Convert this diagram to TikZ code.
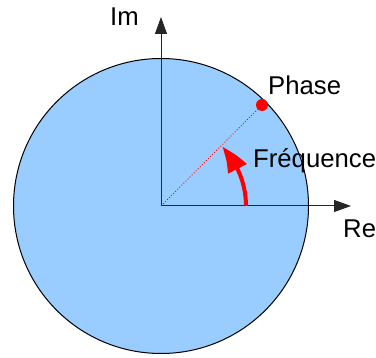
\documentclass[tikz,border=0pt]{standalone}
\usepackage{fontspec}
\setmainfont{Liberation Sans}
\usetikzlibrary{arrows.meta,bending}
\definecolor{discblue}{HTML}{99CCFF}
\definecolor{phasered}{HTML}{FF0000}
\begin{document}
\begin{tikzpicture}[x=1pt,y=-1pt,
  lbl/.style={anchor=base west,inner sep=0pt,font=\fontsize{25.7}{30}\selectfont},
  axis/.style={draw=black!85,line width=1pt,-{Triangle[length=17pt,width=12pt]}},
  disc/.style={circle,draw=black,fill=discblue,line width=1pt,minimum size=295pt,inner sep=0pt}]
\useasboundingbox (0,0) rectangle (376,358);
\coordinate (O) at (161,206);
\node[disc] (circ) at (O) {};
\coordinate (imtip) at (161,17);
\coordinate (retip) at (351,206);
\draw[axis] (O) -- (imtip);
\draw[axis] (O) -- (retip);
\node[circle,fill=phasered,inner sep=0pt,minimum size=12pt] (ph) at (262,105) {};
\draw[phasered,dotted,line width=0.9pt] (O) -- (ph.center);
\draw[phasered,line width=4pt,-{Triangle[length=27pt,width=20pt,bend]}] ([shift={(0:85)}]O) arc[start angle=0,end angle=-44,radius=85];
\node[lbl] (im) at (110,26) {Im};
\node[lbl] (re) at (343,238) {Re};
\node[lbl] (phase) at (268,95) {Phase};
\node[lbl] (freq) at (253,168) {Fréquence};
\end{tikzpicture}
\end{document}
